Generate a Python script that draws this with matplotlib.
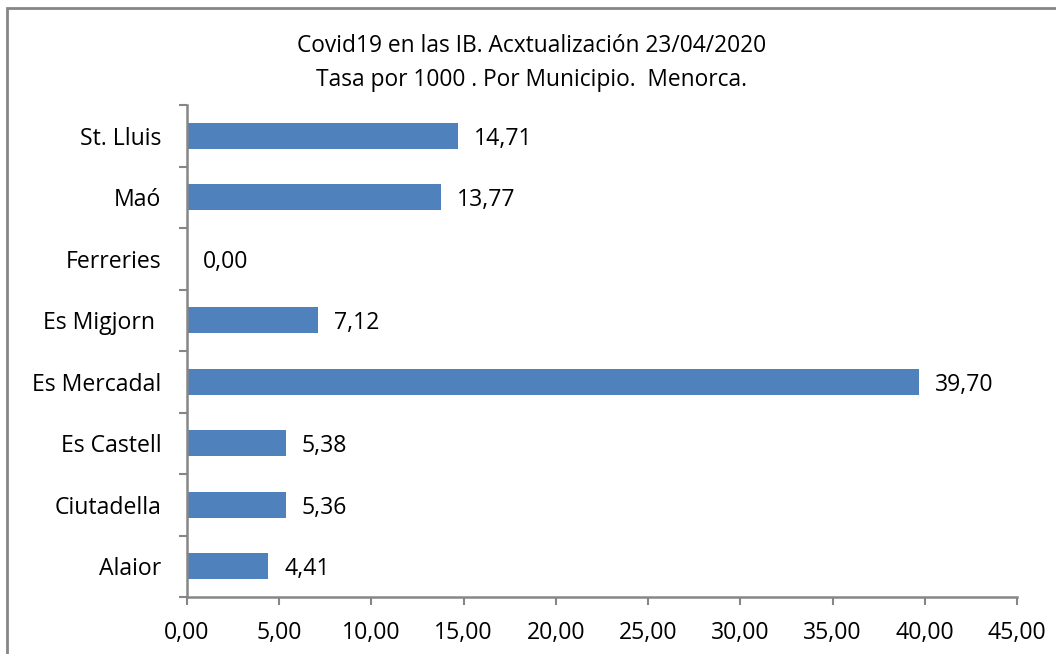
import matplotlib.pyplot as plt
from matplotlib.patches import Rectangle
from matplotlib.ticker import FuncFormatter

municipios = ["Alaior", "Ciutadella", "Es Castell", "Es Mercadal",
              "Es Migjorn ", "Ferreries", "Maó", "St. Lluis"]
tasas = [4.41, 5.36, 5.38, 39.70, 7.12, 0.00, 13.77, 14.71]
x_ticks = [0, 5, 10, 15, 20, 25, 30, 35, 40, 45]

titulo = "Covid19 en las IB. Acxtualización 23/04/2020\nTasa por 1000 . Por Municipio.  Menorca."

BAR = "#4f81bd"
GRAY = "#868686"
FS = 16.6

plt.rcParams["font.family"] = ["Open Sans", "DejaVu Sans"]

W, H = 1056, 654
fig = plt.figure(figsize=(W / 100, H / 100), dpi=100)
ax = fig.add_axes([187 / W, 1 - 597 / H, (1017 - 187) / W, (597 - 105) / H])

y = range(len(municipios))
ax.barh(y, tasas, height=0.42, color=BAR)
for i, v in enumerate(tasas):
    ax.text(v + 0.85, i - 0.05, f"{v:.2f}".replace(".", ","),
            va="center", ha="left", fontsize=FS, color="black")

ax.set_xlim(0, 45)
ax.set_ylim(-0.5, len(municipios) - 0.5)
ax.set_xticks(x_ticks)
ax.xaxis.set_major_formatter(FuncFormatter(lambda v, p: f"{v:.2f}".replace(".", ",")))
ax.set_yticks([i - 0.5 for i in range(len(municipios) + 1)])
ax.set_yticklabels([])
ax.set_yticks(list(y), minor=True)
ax.set_yticklabels(municipios, minor=True)
ax.tick_params(axis="y", which="minor", length=0, pad=18.5, labelsize=FS)
ax.tick_params(axis="y", which="major", length=6, width=1.5, color=GRAY)
ax.tick_params(axis="x", length=6, width=1.5, color=GRAY, labelsize=FS, pad=11)

for s in ["top", "right"]:
    ax.spines[s].set_visible(False)
for s in ["left", "bottom"]:
    ax.spines[s].set_color(GRAY)
    ax.spines[s].set_linewidth(1.8)

fig.text(532 / W, 1 - 63 / H, titulo, ha="center", va="center",
         fontsize=16.4, linespacing=1.55)

fig.patches.append(Rectangle((7 / W, -0.05), 1.2, 1 - 8 / H + 0.05,
                             transform=fig.transFigure, fill=False,
                             edgecolor=GRAY, linewidth=2))

fig.savefig("out.png", dpi=100)
